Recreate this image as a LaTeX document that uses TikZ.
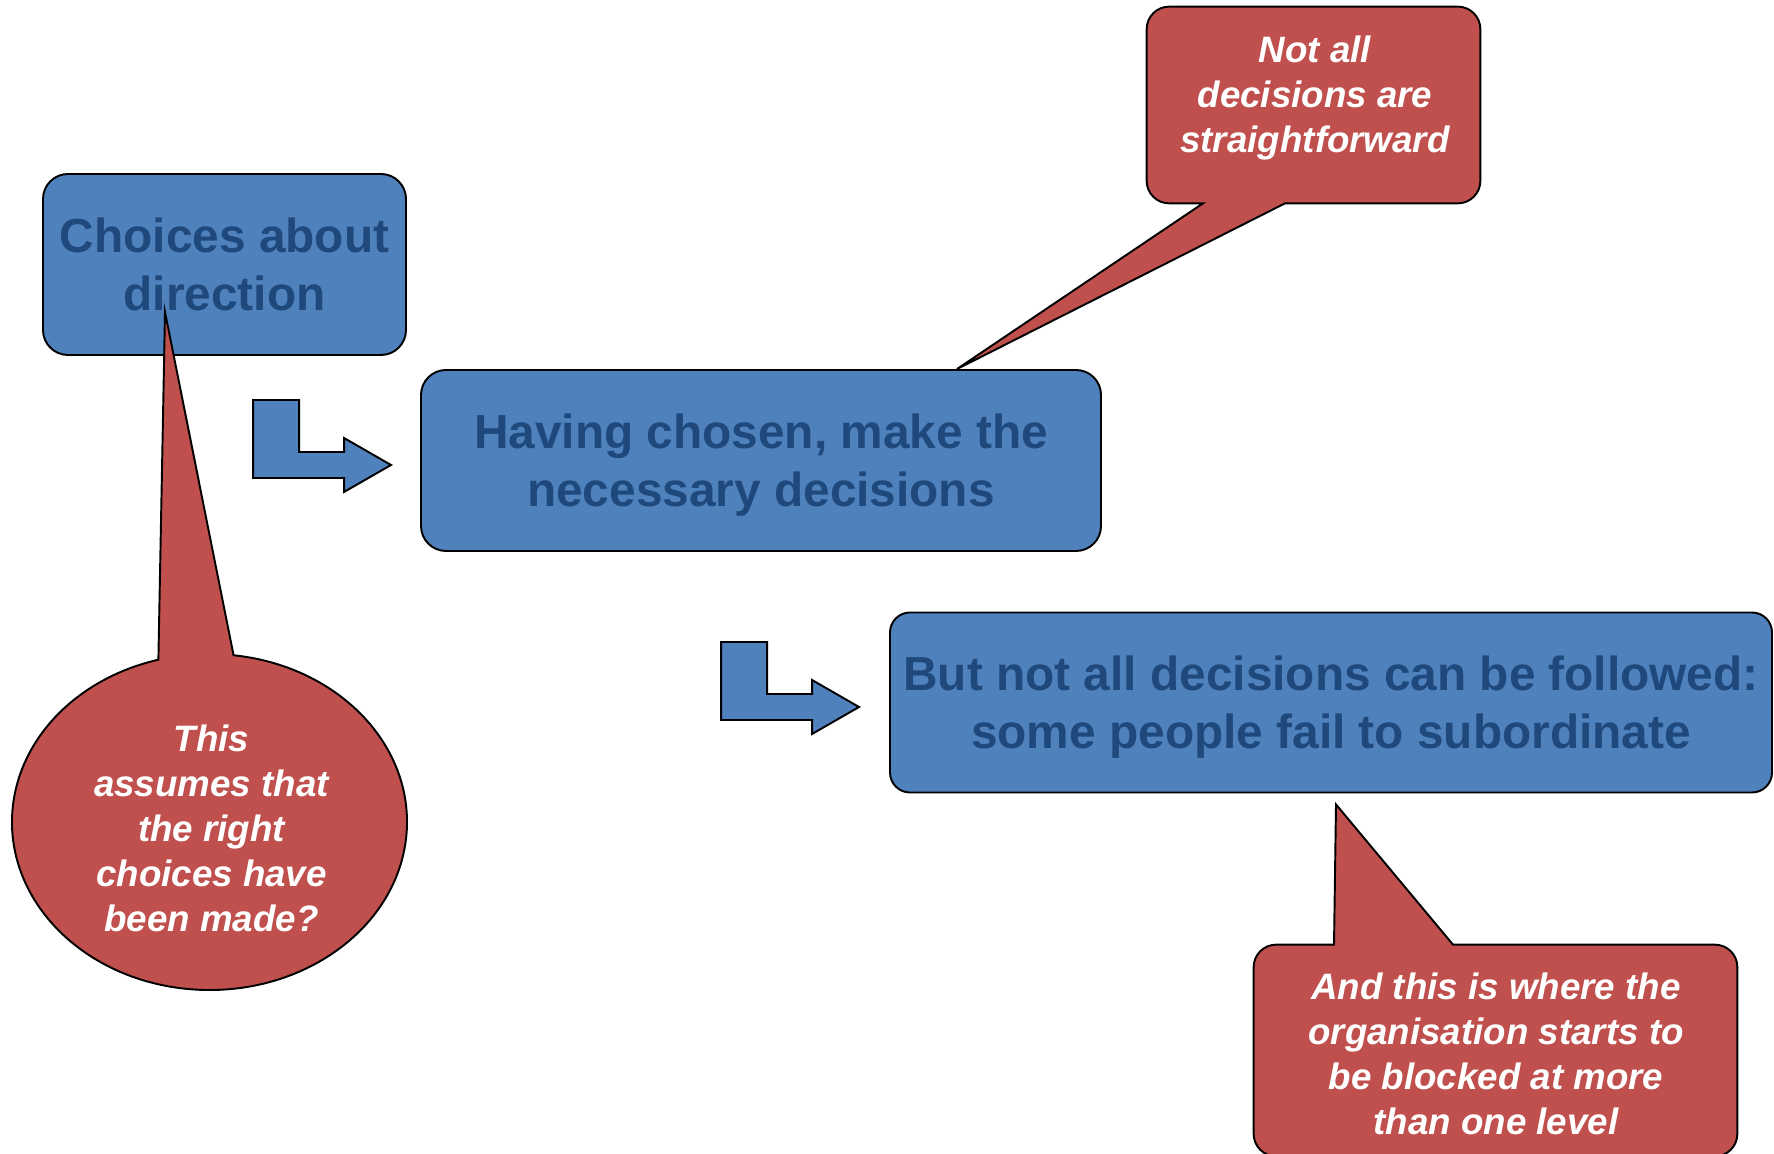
\documentclass[tikz,border=0pt]{standalone}
\usepackage{fontspec}
\setmainfont{Liberation Sans}
\usetikzlibrary{positioning, calc, backgrounds}
\definecolor{boxBlue}{HTML}{4F81BD}
\definecolor{textBlue}{HTML}{1F497D}
\definecolor{calloutRed}{HTML}{C0504D}
\tikzset{
  stepbox/.style={draw=black, fill=boxBlue, rounded corners=0.5cm, line width=1.1pt,
    font=\fontsize{27.2pt}{33pt}\selectfont\bfseries, text=textBlue, align=center,
    inner sep=0pt, text depth=0pt},
  callout/.style={draw=black, fill=calloutRed, line width=1.1pt},
  calloutbox/.style={inner sep=0pt},
  callouttext/.style={font=\fontsize{20.9pt}{25.6pt}\selectfont\bfseries\itshape,
    text=white, align=center, inner sep=0pt},
  turnstyle/.style={draw=black, fill=boxBlue, line width=1.1pt},
  pics/turnarrow/.style={code={
    \draw[turnstyle] (-2.76,1.30) -- (-1.84,1.30) -- (-1.84,0.26) -- (-0.94,0.26) -- (-0.94,0.54)
      -- (0,0) -- (-0.94,-0.54) -- (-0.94,-0.26) -- (-2.76,-0.26) -- cycle;
  }},
}
\begin{document}
\begin{tikzpicture}
  \useasboundingbox (0,0) rectangle (35.48,23.06);

  % === Main steps ===
  \node[stepbox, minimum width=7.26cm, minimum height=3.62cm] (choices) at (4.49,17.77) {Choices about\\direction};
  \node[stepbox, minimum width=13.6cm, minimum height=3.62cm] (decide) at (15.22,13.85) {Having chosen, make the\\necessary decisions};
  \node[stepbox, minimum width=17.64cm, minimum height=3.6cm, rounded corners=0.4cm] (follow) at (26.62,9.01) {But not all decisions can be followed:\\some people fail to subordinate};

  % Turn arrows into the next step
  \pic at ([xshift=-0.58cm, yshift=-0.09cm]decide.west) {turnarrow};
  \pic at ([xshift=-0.6cm, yshift=-0.09cm]follow.west) {turnarrow};

  % === Callout: not all decisions ===
  \node[calloutbox, minimum width=6.66cm, minimum height=3.92cm] (notall) at (26.27,20.96) {};
  \coordinate (notallTip) at ([xshift=3.92cm]decide.north);
  \draw[callout] (notallTip) -- ([xshift=-0.57cm]notall.south) [rounded corners=0.45cm]
    -- (notall.south east) -- (notall.north east) -- (notall.north west) -- (notall.south west)
    [sharp corners] -- ([xshift=-2.21cm]notall.south) -- cycle;
  \node[callouttext] (notallText) at (26.30,21.09) {Not all\\decisions are\\straightforward};

  % === Callout: the oval under the first step ===
  \coordinate (assumeMid) at (4.19,6.62);
  \coordinate (assumeTip) at ([xshift=-1.19cm, yshift=-0.95cm]choices.center);
  \draw[callout] (assumeTip) -- ($(assumeMid)+(83:3.95cm and 3.36cm)$)
    arc[start angle=83, end angle=-255, x radius=3.95cm, y radius=3.36cm] -- cycle;
  \node[callouttext] (assumeText) at (4.23,6.49) {This\\assumes that\\the right\\choices have\\been made?};

  % === Callout: blocked at more than one level ===
  \node[calloutbox, minimum width=9.66cm, minimum height=4.22cm] (blocked) at (29.91,2.05) {};
  \coordinate (blockedTip) at ([xshift=0.1cm, yshift=-0.22cm]follow.south);
  \draw[callout] (blockedTip) -- ([xshift=-0.85cm]blocked.north) [rounded corners=0.45cm]
    -- (blocked.north east) -- (blocked.south east) -- (blocked.south west) -- (blocked.north west)
    [sharp corners] -- ([xshift=-3.23cm]blocked.north) -- cycle;
  \node[callouttext] (blockedText) at (29.92,1.99) {And this is where the\\organisation starts to\\be blocked at more\\than one level};

\end{tikzpicture}
\end{document}
